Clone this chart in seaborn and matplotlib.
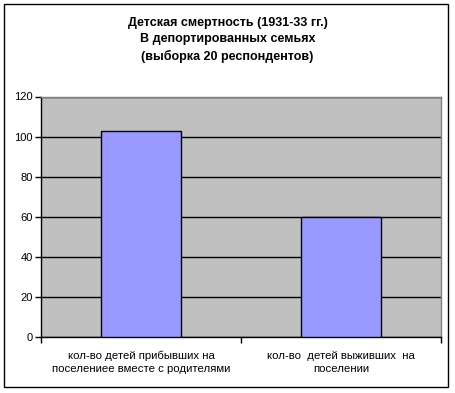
import matplotlib
matplotlib.use("Agg")
import matplotlib.pyplot as plt
from matplotlib.patches import Rectangle
from matplotlib.ticker import FixedLocator, MultipleLocator
import seaborn as sns
import pandas as pd

categories = ["кол-во детей прибывших на\nпоселениее вместе с родителями",
              "кол-во  детей выживших  на\nпоселении"]
values = [103, 60]
title = "Детская смертность (1931-33 гг.)\nВ депортированных семьях\n(выборка 20 респондентов)"

sns.set_theme(style="white")
plt.rcParams['font.family'] = ['Liberation Sans', 'DejaVu Sans']

W, H = 455, 393
fig = plt.figure(figsize=(W / 100, H / 100), dpi=100)
fig.patch.set_facecolor("white")

ax = fig.add_axes([41 / W, 1 - 337 / H, 400 / W, 240.5 / H])
ax.set_facecolor("#C0C0C0")

df = pd.DataFrame({"cat": categories, "val": values})
sns.barplot(data=df, x="cat", y="val", ax=ax, color="#9999FF", saturation=1,
            width=0.4, edgecolor="black", linewidth=1, zorder=3)

ax.set_xlim(-0.5, 1.5)
ax.set_ylim(0, 120)
ax.yaxis.set_major_locator(MultipleLocator(20))
ax.grid(axis="y", color="black", linewidth=1, zorder=1)
ax.set_axisbelow(True)
ax.set_xlabel("")
ax.set_ylabel("")

for s in ["top", "right"]:
    ax.spines[s].set_color("#808080")
    ax.spines[s].set_linewidth(1)
for s in ["left", "bottom"]:
    ax.spines[s].set_color("black")
    ax.spines[s].set_linewidth(1)

ax.tick_params(axis="y", which="major", left=True, length=4, width=1,
               color="black", direction="out", labelsize=8, pad=2,
               labelcolor="black")
ax.tick_params(axis="x", which="major", bottom=False, labelsize=8.2, pad=4,
               labelcolor="black")
ax.xaxis.set_minor_locator(FixedLocator([-0.5, 0.5, 1.5]))
ax.tick_params(axis="x", which="minor", bottom=True, length=4, width=1,
               color="black", direction="out")
for lbl in ax.get_xticklabels():
    lbl.set_linespacing(1.35)

fig.text(0.5, 1 - 40 / H, title, ha="center", va="center", fontsize=9,
         fontweight="bold", linespacing=1.5, color="black")

fig.patches.append(Rectangle((4 / W, 1 - 387 / H), 444 / W, 383 / H,
                             transform=fig.transFigure, fill=False,
                             edgecolor="black", linewidth=1))

fig.savefig("out.png", dpi=100)
